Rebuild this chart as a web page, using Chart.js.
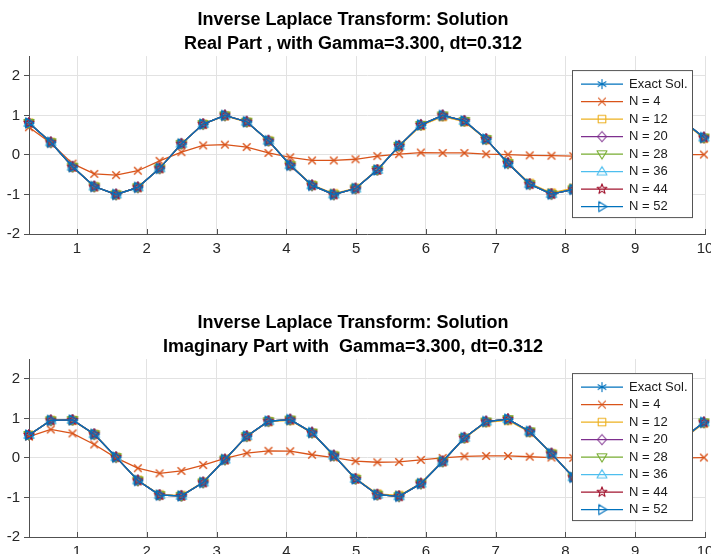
<!DOCTYPE html>
<html>
<head>
<meta charset="utf-8">
<script src="https://cdn.jsdelivr.net/npm/chart.js@4/dist/chart.umd.min.js"></script>
<style>
  html, body { margin: 0; padding: 0; background: #fff; overflow: hidden; }
  .plot { position: absolute; left: 0; }
</style>
</head>
<body>
<div class="plot" style="top:0"><canvas id="realPart" width="730" height="303"></canvas></div>
<div class="plot" style="top:303px"><canvas id="imagPart" width="730" height="303"></canvas></div>
<script>
// sample times, dt = 0.312
const tValues = [0.312, 0.624, 0.936, 1.248, 1.560, 1.872, 2.184, 2.496, 2.808, 3.120,
  3.432, 3.744, 4.056, 4.368, 4.680, 4.992, 5.304, 5.616, 5.928, 6.240,
  6.552, 6.864, 7.176, 7.488, 7.800, 8.112, 8.424, 8.736, 9.048, 9.360,
  9.672, 9.984];

const realExact = [0.81, 0.32, -0.30, -0.80, -1.00, -0.82, -0.34, 0.28, 0.78, 1.00,
  0.84, 0.36, -0.26, -0.77, -1.00, -0.85, -0.38, 0.23, 0.76, 1.00,
  0.86, 0.40, -0.21, -0.74, -0.99, -0.87, -0.42, 0.19, 0.73, 0.99,
  0.88, 0.44];
const realN4 = [0.70, 0.30, -0.22, -0.48, -0.51, -0.40, -0.15, 0.07, 0.24, 0.26,
  0.20, 0.05, -0.06, -0.14, -0.14, -0.11, -0.03, 0.02, 0.06, 0.05,
  0.05, 0.02, 0.01, -0.01, -0.02, -0.03, -0.03, -0.02, -0.01, 0.00,
  0.01, 0.01];
const realN12 = [0.81, 0.32, -0.30, -0.80, -1.00, -0.82, -0.34, 0.28, 0.78, 0.99,
  0.83, 0.36, -0.25, -0.76, -0.98, -0.84, -0.37, 0.22, 0.74, 0.97,
  0.84, 0.39, -0.20, -0.72, -0.96, -0.84, -0.40, 0.18, 0.70, 0.96,
  0.85, 0.42];

const imagExact = [0.58, 0.95, 0.96, 0.60, 0.02, -0.57, -0.94, -0.96, -0.62, -0.04,
  0.55, 0.93, 0.97, 0.64, 0.06, -0.53, -0.93, -0.97, -0.65, -0.09,
  0.51, 0.92, 0.98, 0.67, 0.11, -0.49, -0.91, -0.98, -0.68, -0.13,
  0.47, 0.90];
const imagN4 = [0.54, 0.72, 0.62, 0.34, 0.00, -0.26, -0.39, -0.33, -0.18, -0.01,
  0.12, 0.18, 0.17, 0.08, 0.01, -0.08, -0.11, -0.10, -0.05, 0.00,
  0.04, 0.05, 0.05, 0.03, 0.01, 0.00, -0.01, -0.02, -0.02, -0.01,
  0.00, 0.01];
const imagN12 = [0.58, 0.95, 0.95, 0.60, 0.02, -0.56, -0.93, -0.95, -0.61, -0.04,
  0.54, 0.92, 0.95, 0.63, 0.06, -0.52, -0.91, -0.95, -0.64, -0.09,
  0.50, 0.90, 0.95, 0.65, 0.11, -0.48, -0.89, -0.95, -0.66, -0.13,
  0.46, 0.88];

const seriesLabels = ['Exact Sol.', 'N = 4', 'N = 12', 'N = 20', 'N = 28', 'N = 36', 'N = 44', 'N = 52'];
const seriesColors = ['#0072BD', '#D95319', '#EDB120', '#7E2F8E', '#77AC30', '#4DBEEE', '#A2142F', '#0072BD'];
const seriesMarkers = ['asterisk', 'cross', 'square', 'diamond', 'triDown', 'triUp', 'pentagram', 'triRight'];

const xTicks = [1, 2, 3, 4, 5, 6, 7, 8, 9, 10];
const yTicks = [-2, -1, 0, 1, 2];

const FONT = "'Liberation Sans', Arial, Helvetica, sans-serif";

// matlab-style hollow markers as small canvases
function markerCanvas(shape, color, lw) {
  const s = 16;
  const c = document.createElement('canvas');
  c.width = s; c.height = s;
  const g = c.getContext('2d');
  g.strokeStyle = color;
  g.lineWidth = lw;
  g.lineJoin = 'round';
  g.translate(s / 2, s / 2);
  g.beginPath();
  if (shape === 'asterisk') {
    const r = 5;
    for (const a of [90, 30, -30]) {
      const dx = r * Math.cos(a * Math.PI / 180), dy = r * Math.sin(a * Math.PI / 180);
      g.moveTo(-dx, -dy); g.lineTo(dx, dy);
    }
  } else if (shape === 'cross') {
    const r = 3.8;
    g.moveTo(-r, -r); g.lineTo(r, r);
    g.moveTo(-r, r); g.lineTo(r, -r);
  } else if (shape === 'square') {
    g.rect(-3.8, -3.8, 7.6, 7.6);
  } else if (shape === 'diamond') {
    g.moveTo(0, -5); g.lineTo(4.5, 0); g.lineTo(0, 5); g.lineTo(-4.5, 0); g.closePath();
  } else if (shape === 'triDown') {
    g.moveTo(-5, -3.2); g.lineTo(5, -3.2); g.lineTo(0, 5); g.closePath();
  } else if (shape === 'triUp') {
    g.moveTo(-5, 3.2); g.lineTo(5, 3.2); g.lineTo(0, -5); g.closePath();
  } else if (shape === 'pentagram') {
    for (let i = 0; i < 10; i++) {
      const r = i % 2 ? 2.1 : 5.2;
      const a = -Math.PI / 2 + i * Math.PI / 5;
      if (i === 0) g.moveTo(r * Math.cos(a), r * Math.sin(a));
      else g.lineTo(r * Math.cos(a), r * Math.sin(a));
    }
    g.closePath();
  } else if (shape === 'triRight') {
    g.moveTo(-3.2, -5); g.lineTo(-3.2, 5); g.lineTo(5, 0); g.closePath();
  }
  g.stroke();
  return c;
}

const markerImages = seriesMarkers.map((m, i) => markerCanvas(m, seriesColors[i], 1.4));
const legendMarkers = seriesMarkers.map((m, i) => markerCanvas(m, seriesColors[i], 1.1));

// legend box drawn inside the axes, top right
const boxLegend = {
  id: 'boxLegend',
  afterDraw(chart) {
    const ctx = chart.ctx;
    const area = chart.chartArea;

    // inward x tick marks
    ctx.save();
    ctx.strokeStyle = '#505050';
    ctx.lineWidth = 1;
    const xs = chart.scales.x;
    xTicks.forEach(v => {
      const px = Math.round(xs.getPixelForValue(v)) + 0.5;
      ctx.beginPath();
      ctx.moveTo(px, area.bottom);
      ctx.lineTo(px, area.bottom - 5);
      ctx.stroke();
    });

    const w = 120, h = 147;
    const left = area.right - 13 - w;
    const top = area.top + 14;
    ctx.fillStyle = '#fff';
    ctx.fillRect(left, top, w, h);
    ctx.strokeStyle = '#555';
    ctx.strokeRect(left + 0.5, top + 0.5, w, h);

    ctx.font = '13px ' + FONT;
    ctx.textBaseline = 'middle';
    chart.data.datasets.forEach((ds, i) => {
      const y = top + 14 + i * 17.5;
      ctx.strokeStyle = ds.borderColor;
      ctx.lineWidth = 1.3;
      ctx.beginPath();
      ctx.moveTo(left + 9, y);
      ctx.lineTo(left + 51, y);
      ctx.stroke();
      const img = legendMarkers[i];
      ctx.drawImage(img, left + 30 - img.width / 2, y - img.height / 2);
      ctx.fillStyle = '#1a1a1a';
      ctx.fillText(ds.label, left + 57, y);
    });
    ctx.restore();
  }
};

function makePlot(canvasId, titleLines, series) {
  const datasets = series.map((vals, i) => ({
    label: seriesLabels[i],
    data: tValues.map((t, k) => ({ x: t, y: vals[k] })),
    borderColor: seriesColors[i],
    backgroundColor: seriesColors[i],
    borderWidth: 1.3,
    pointStyle: markerImages[i],
    pointRadius: 5,
    tension: 0,
    clip: false,
    order: series.length - i
  }));

  new Chart(document.getElementById(canvasId), {
    type: 'line',
    data: { datasets: datasets },
    options: {
      responsive: false,
      animation: false,
      layout: { padding: { top: 0, left: 1, right: 25, bottom: 49 } },
      plugins: {
        legend: { display: false },
        tooltip: { enabled: false },
        title: {
          display: true,
          text: titleLines,
          color: '#000',
          font: { family: FONT, size: 18, weight: 'bold', lineHeight: 1.28 },
          padding: { top: 9, bottom: 1 }
        }
      },
      scales: {
        x: {
          type: 'linear',
          min: 0.312,
          max: 10,
          afterBuildTicks: axis => { axis.ticks = xTicks.map(v => ({ value: v })); },
          afterFit: axis => { axis.height = 20; },
          grid: { color: '#e2e2e2', drawTicks: false },
          border: { display: true, color: '#505050', width: 1 },
          ticks: { color: '#262626', padding: 6, font: { family: FONT, size: 15 }, callback: v => String(v) }
        },
        y: {
          min: -2,
          max: 2.5,
          afterBuildTicks: axis => { axis.ticks = yTicks.map(v => ({ value: v })); },
          afterFit: axis => { axis.width = 28; },
          grid: { color: '#e2e2e2', tickLength: 5, tickColor: '#505050' },
          border: { display: true, color: '#505050', width: 1 },
          ticks: { color: '#262626', padding: 4, font: { family: FONT, size: 15 }, callback: v => String(v) }
        }
      }
    },
    plugins: [boxLegend]
  });
}

makePlot('realPart',
  ['Inverse Laplace Transform: Solution', 'Real Part , with Gamma=3.300, dt=0.312'],
  [realExact, realN4, realN12, realExact, realExact, realExact, realExact, realExact]);

makePlot('imagPart',
  ['Inverse Laplace Transform: Solution', 'Imaginary Part with  Gamma=3.300, dt=0.312'],
  [imagExact, imagN4, imagN12, imagExact, imagExact, imagExact, imagExact, imagExact]);
</script>
</body>
</html>
